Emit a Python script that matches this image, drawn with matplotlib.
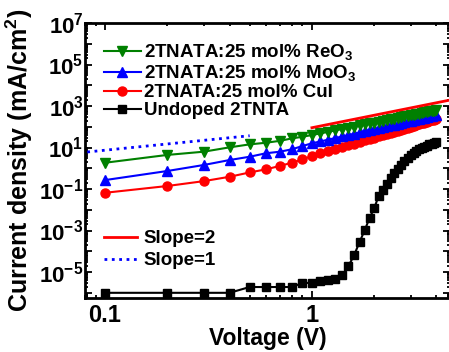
#!/usr/bin/env python3

import matplotlib
matplotlib.use('Agg')
import matplotlib.pyplot as plt
import matplotlib as mpl
from matplotlib.ticker import LogLocator, FuncFormatter, NullFormatter
import numpy as np

mpl.rcParams['font.family'] = ['Liberation Sans', 'DejaVu Sans']
mpl.rcParams['font.weight'] = 'bold'
mpl.rcParams['mathtext.fontset'] = 'custom'
mpl.rcParams['mathtext.rm'] = 'Liberation Sans:bold'
mpl.rcParams['mathtext.bf'] = 'Liberation Sans:bold'
mpl.rcParams['mathtext.it'] = 'Liberation Sans:bold:italic'

# voltage (V)
voltage = [0.1, 0.2, 0.3, 0.4, 0.5, 0.6, 0.7, 0.8, 0.9, 1.0,
           1.1, 1.2, 1.3, 1.4, 1.5, 1.6, 1.7, 1.8, 1.9, 2.0,
           2.1, 2.2, 2.3, 2.4, 2.5, 2.6, 2.7, 2.8, 2.9, 3.0,
           3.1, 3.2, 3.3, 3.4, 3.5, 3.6, 3.7, 3.8, 3.9, 4.0]

# current density (mA/cm^2)
reo3 = [1.85, 4.4, 6.3, 10.2, 14.2, 17, 21, 27.5, 33, 40,
        48, 57, 67, 78, 90, 102, 116, 130, 144, 160,
        176, 194, 212, 230, 250, 270, 292, 314, 336, 360,
        384, 410, 436, 462, 490, 518, 548, 578, 608, 640]
moo3 = [0.27, 0.74, 1.44, 2.5, 3.6, 5.3, 6.3, 8.2, 11.8, 16,
        19.7, 24, 28.8, 34.1, 40, 46.3, 53.1, 60.6, 68.5, 77,
        86, 95.7, 106, 117, 128, 140, 153, 166, 180, 194,
        209, 225, 241, 258, 276, 294, 313, 333, 353, 374]
cui = [0.066, 0.14, 0.24, 0.39, 0.63, 0.89, 1.3, 1.85, 2.7, 3.9,
       5.16, 6.67, 8.46, 10.5, 12.9, 15.6, 18.7, 22.2, 26.0, 30.3,
       35.0, 40.1, 45.8, 51.9, 58.6, 65.8, 73.6, 82, 90.9, 100.5,
       110.8, 121.6, 133, 145.6, 158.6, 172.4, 187, 202, 218.6, 235.6]
undoped = [1e-6, 1e-6, 1e-6, 1e-6, 1.9e-6, 1.9e-6, 1.9e-6, 1.9e-6, 3e-6, 3e-6,
           3.6e-6, 4e-6, 4.8e-6, 7e-6, 1.9e-5, 6.6e-5, 2.8e-4, 1.05e-3, 4e-3, 0.012,
           0.045, 0.09, 0.18, 0.34, 0.59, 0.92, 1.4, 2.2, 3.1, 4.4,
           5.4, 6.7, 8.5, 9.5, 11, 12.5, 14, 15.5, 17, 19.5]

# guide lines
slope2_x = [1.0, 4.6]
slope2_y = [90, 1900]
slope1_x = [0.082, 0.5]
slope1_y = [6.1, 37]

fig = plt.figure(figsize=(4.49, 3.52), dpi=100)
ax = fig.add_axes([85 / 449, 54 / 352, 365 / 449, 275 / 352])

ax.plot(voltage, undoped, '-s', color='black', ms=6, lw=1.5, mec='black',
        label='Undoped 2TNTA')
ax.plot(voltage, cui, '-o', color='#ff0000', ms=6.5, lw=1.5, mec='#ff0000',
        label='2TNATA:25 mol% CuI')
ax.plot(voltage, moo3, '-^', color='#0000ff', ms=7, lw=1.5, mec='#0000ff',
        label='2TNATA:25 mol% MoO$_3$')
ax.plot(voltage, reo3, '-v', color='#008000', ms=7, lw=1.5, mec='#008000',
        label='2TNATA:25 mol% ReO$_3$')
l2, = ax.plot(slope2_x, slope2_y, '-', color='#ff0000', lw=2)
l1, = ax.plot(slope1_x, slope1_y, ':', color='#0000ff', lw=2)

ax.set_xscale('log')
ax.set_yscale('log')
ax.set_xlim(0.08, 4.65)
ax.set_ylim(10 ** -6.25, 1e7)

ax.xaxis.set_major_locator(LogLocator(base=10, numticks=20))
ax.xaxis.set_minor_locator(LogLocator(base=10, subs=np.arange(2, 10), numticks=20))
ax.xaxis.set_major_formatter(FuncFormatter(lambda v, p: '%g' % v))
ax.xaxis.set_minor_formatter(NullFormatter())

ax.yaxis.set_major_locator(LogLocator(base=10, numticks=30))
ax.yaxis.set_minor_locator(LogLocator(base=10, subs=np.arange(2, 10), numticks=30))


def ylab(v, p):
    e = int(round(np.log10(v)))
    if e % 2 == 0:
        return ''
    return '$10^{%d}$' % e


ax.yaxis.set_major_formatter(FuncFormatter(ylab))
ax.yaxis.set_minor_formatter(NullFormatter())

ax.tick_params(which='both', direction='in', top=True, right=True, width=1.3)
ax.tick_params(which='major', length=5)
ax.tick_params(axis='y', which='major', pad=1, labelsize=16)
ax.tick_params(axis='x', which='major', pad=4, labelsize=17)
ax.tick_params(which='minor', length=2.5)
for s in ax.spines.values():
    s.set_linewidth(2)

ax.set_xlabel('Voltage (V)', fontsize=16.5, fontweight='bold', labelpad=0)
ax.set_ylabel('Current density (mA/cm$^2$)', fontsize=18, fontweight='bold', labelpad=3)

h, lab = ax.get_legend_handles_labels()
leg1 = ax.legend(h[::-1], lab[::-1], loc='upper left', bbox_to_anchor=(0.01, 0.985),
                 frameon=False, fontsize=13.5, handlelength=2.0, handletextpad=0.15,
                 labelspacing=0.05, borderpad=0.3)
ax.add_artist(leg1)
ax.legend([l2, l1], ['Slope=2', 'Slope=1'], loc='lower left', bbox_to_anchor=(0.01, 0.05),
          frameon=False, fontsize=13.5, handlelength=1.8, handletextpad=0.3,
          labelspacing=0.25, borderpad=0.3)

fig.savefig('out.png', dpi=100)
